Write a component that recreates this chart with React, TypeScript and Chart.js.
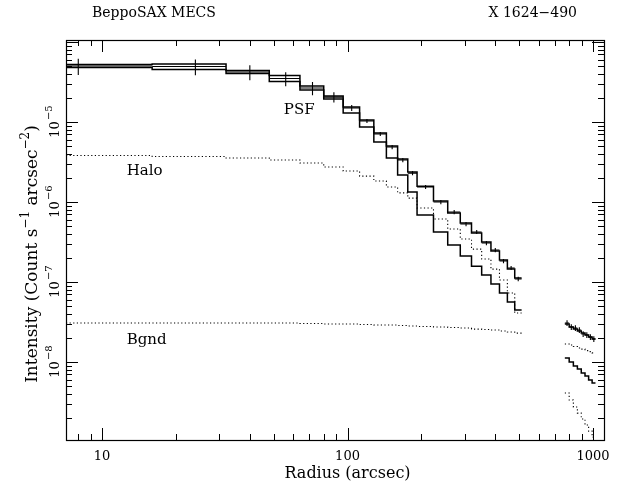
import React, { useEffect, useRef } from 'react';
import { Chart, registerables } from 'chart.js';
Chart.register(...registerables);

// ---- Axis ranges and ticks ----
const X_MIN = 7.13;
const X_MAX = 1109;
const Y_MIN = 1.06e-9;
const Y_MAX = 1.06e-4;
const xMajorTicks = [10, 100, 1000];
const xTickLabels = ['10', '100', '1000'];
const yMajorTicks = [1e-8, 1e-7, 1e-6, 1e-5];
const yTickExponents = ['\u22128', '\u22127', '\u22126', '\u22125'];

// ---- Inner region bins (arcsec) ----
const innerEdges = [0, 16, 32, 48, 64, 80, 96, 112, 128, 144, 160, 176, 192, 224, 256, 288, 320, 352, 384, 416, 448, 480, 512];
const dataInner = [5.01e-5, 4.94e-5, 4.22e-5, 3.5e-5, 2.66e-5, 2.05e-5, 1.5e-5, 1.03e-5, 7.08e-6, 4.87e-6, 3.35e-6, 2.3e-6, 1.54e-6, 1.0e-6, 7.5e-7, 5.31e-7, 4.22e-7, 3.07e-7, 2.51e-7, 1.83e-7, 1.5e-7, 1.09e-7];
const errInner = [1.15e-5, 1.1e-5, 0.9e-5, 0.7e-5, 0.5e-5, 0.3e-5, 0.13e-5, 0.06e-5, 0.4e-6, 0.3e-6, 0.2e-6, 0.14e-6, 0.09e-6, 0.06e-6, 0.45e-7, 0.32e-7, 0.25e-7, 0.18e-7, 0.15e-7, 0.11e-7, 0.09e-7, 0.07e-7];
const totalInner = [5.24e-5, 5.31e-5, 4.4e-5, 3.81e-5, 2.82e-5, 2.11e-5, 1.54e-5, 1.06e-5, 7.29e-6, 5.01e-6, 3.45e-6, 2.37e-6, 1.58e-6, 1.03e-6, 7.29e-7, 5.46e-7, 4.1e-7, 3.16e-7, 2.44e-7, 1.88e-7, 1.45e-7, 1.12e-7];
const psfInner = [4.8e-5, 4.53e-5, 4.04e-5, 3.21e-5, 2.51e-5, 1.94e-5, 1.3e-5, 8.66e-6, 5.62e-6, 3.55e-6, 2.18e-6, 1.33e-6, 6.88e-7, 4.22e-7, 2.9e-7, 2.11e-7, 1.58e-7, 1.22e-7, 9.44e-8, 7.29e-8, 5.62e-8, 4.47e-8];
const haloInner = [3.81e-6, 3.7e-6, 3.55e-6, 3.35e-6, 3.07e-6, 2.74e-6, 2.44e-6, 2.11e-6, 1.83e-6, 1.54e-6, 1.3e-6, 1.12e-6, 8.41e-7, 6.13e-7, 4.6e-7, 3.45e-7, 2.58e-7, 1.94e-7, 1.45e-7, 1.06e-7, 7.29e-8, 4.1e-8];
const bgndInner = [3.07e-8, 3.07e-8, 3.07e-8, 3.07e-8, 3.03e-8, 2.99e-8, 2.99e-8, 2.94e-8, 2.9e-8, 2.9e-8, 2.86e-8, 2.82e-8, 2.78e-8, 2.74e-8, 2.7e-8, 2.66e-8, 2.58e-8, 2.55e-8, 2.51e-8, 2.44e-8, 2.37e-8, 2.3e-8];

// ---- Outer region bins (arcsec) ----
const outerEdges = [768, 800, 832, 864, 896, 928, 960, 992, 1024];
const dataOuter = [3.07e-8, 2.74e-8, 2.66e-8, 2.51e-8, 2.24e-8, 2.18e-8, 2.05e-8, 1.94e-8];
const errOuter = [0.25e-8, 0.23e-8, 0.22e-8, 0.21e-8, 0.19e-8, 0.18e-8, 0.17e-8, 0.16e-8];
const totalOuter = [2.99e-8, 2.74e-8, 2.58e-8, 2.44e-8, 2.3e-8, 2.18e-8, 2.05e-8, 1.94e-8];
const psfOuter = [1.12e-8, 1.0e-8, 8.91e-9, 8.18e-9, 7.29e-9, 6.68e-9, 5.96e-9, 5.46e-9];
const haloOuter = [4.1e-9, 3.35e-9, 2.74e-9, 2.3e-9, 1.94e-9, 1.63e-9, 1.37e-9, 1.15e-9];
const bgndOuter = [1.68e-8, 1.63e-8, 1.56e-8, 1.5e-8, 1.45e-8, 1.39e-8, 1.35e-8, 1.3e-8];

const FONT = '"DejaVu Serif", "Liberation Serif", serif';

function steps(edges: number[], vals: number[]) {
  const pts: { x: number; y: number }[] = [];
  for (let i = 0; i < vals.length; i++) pts.push({ x: Math.max(edges[i], X_MIN), y: vals[i] });
  pts.push({ x: edges[vals.length], y: vals[vals.length - 1] });
  return pts;
}

function lineDs(data: { x: number; y: number }[], dashed: boolean, width: number) {
  return {
    data,
    borderColor: '#000',
    borderWidth: width,
    borderDash: dashed ? [1.2, 2.4] : [],
    pointRadius: 0,
    fill: false,
    stepped: 'before' as const,
    tension: 0,
  };
}

const decorPlugin = {
  id: 'decor',
  afterDatasetsDraw(chart: any) {
    const ctx = chart.ctx as CanvasRenderingContext2D;
    const xs = chart.scales.x;
    const ys = chart.scales.y;
    const a = chart.chartArea;
    ctx.save();
    ctx.strokeStyle = '#000';
    ctx.fillStyle = '#000';

    // error crosses
    const crosses = (edges: number[], vals: number[], errs: number[]) => {
      for (let i = 0; i < vals.length; i++) {
        const lo = Math.max(edges[i], X_MIN);
        const hi = edges[i + 1];
        const c = (edges[i] + edges[i + 1]) / 2;
        const px = xs.getPixelForValue(c);
        ctx.beginPath();
        ctx.moveTo(xs.getPixelForValue(lo), ys.getPixelForValue(vals[i]));
        ctx.lineTo(xs.getPixelForValue(hi), ys.getPixelForValue(vals[i]));
        ctx.moveTo(px, ys.getPixelForValue(vals[i] - errs[i]));
        ctx.lineTo(px, ys.getPixelForValue(vals[i] + errs[i]));
        ctx.stroke();
      }
    };
    ctx.lineWidth = 1.1;
    crosses(innerEdges, dataInner, errInner);
    crosses(outerEdges, dataOuter, errOuter);

    // frame
    ctx.lineWidth = 1.2;
    ctx.strokeRect(Math.round(a.left) + 0.5, Math.round(a.top) + 0.5, Math.round(a.right - a.left), Math.round(a.bottom - a.top));

    // x ticks (log)
    ctx.lineWidth = 1;
    const xDecStart = Math.floor(Math.log10(X_MIN));
    const xDecEnd = Math.ceil(Math.log10(X_MAX));
    ctx.beginPath();
    for (let d = xDecStart; d <= xDecEnd; d++) {
      for (let m = 1; m <= 9; m++) {
        const v = m * Math.pow(10, d);
        if (v < X_MIN || v > X_MAX) continue;
        const px = Math.round(xs.getPixelForValue(v)) + 0.5;
        const len = m === 1 ? 12 : 6;
        ctx.moveTo(px, a.bottom);
        ctx.lineTo(px, a.bottom - len);
        ctx.moveTo(px, a.top);
        ctx.lineTo(px, a.top + len);
      }
    }
    // y ticks (log)
    const yDecStart = Math.floor(Math.log10(Y_MIN));
    const yDecEnd = Math.ceil(Math.log10(Y_MAX));
    for (let d = yDecStart; d <= yDecEnd; d++) {
      for (let m = 1; m <= 9; m++) {
        const v = m * Math.pow(10, d);
        if (v < Y_MIN || v > Y_MAX) continue;
        const py = Math.round(ys.getPixelForValue(v)) + 0.5;
        const len = m === 1 ? 12 : 6;
        ctx.moveTo(a.left, py);
        ctx.lineTo(a.left + len, py);
        ctx.moveTo(a.right, py);
        ctx.lineTo(a.right - len, py);
      }
    }
    ctx.stroke();

    // x tick labels
    ctx.font = `13px ${FONT}`;
    ctx.textAlign = 'center';
    ctx.textBaseline = 'alphabetic';
    xMajorTicks.forEach((v, i) => {
      ctx.fillText(xTickLabels[i], xs.getPixelForValue(v), a.bottom + 20);
    });
    // x title
    ctx.font = `16px ${FONT}`;
    ctx.fillText('Radius (arcsec)', xs.getPixelForValue(100), a.bottom + 38);

    // y tick labels (rotated)
    yMajorTicks.forEach((v, i) => {
      const py = ys.getPixelForValue(v);
      ctx.save();
      ctx.translate(a.left - 7, py);
      ctx.rotate(-Math.PI / 2);
      ctx.textAlign = 'left';
      ctx.font = `13px ${FONT}`;
      const w = ctx.measureText('10').width;
      ctx.font = `10px ${FONT}`;
      const ws = ctx.measureText(yTickExponents[i]).width;
      const start = -(w + ws) / 2;
      ctx.font = `13px ${FONT}`;
      ctx.fillText('10', start, 0);
      ctx.font = `10px ${FONT}`;
      ctx.fillText(yTickExponents[i], start + w + 1, -7);
      ctx.restore();
    });

    // y title (rotated, with superscripts)
    ctx.save();
    ctx.translate(37, 254);
    ctx.rotate(-Math.PI / 2);
    const parts: [string, boolean][] = [
      ['Intensity (Count s', false],
      ['\u22121', true],
      [' arcsec', false],
      ['\u22122', true],
      [')', false],
    ];
    let total = 0;
    parts.forEach(([t, s]) => {
      ctx.font = s ? `12px ${FONT}` : `17px ${FONT}`;
      total += ctx.measureText(t).width;
    });
    let pos = -total / 2;
    ctx.textAlign = 'left';
    parts.forEach(([t, s]) => {
      ctx.font = s ? `12px ${FONT}` : `17px ${FONT}`;
      ctx.fillText(t, pos, s ? -8 : 0);
      pos += ctx.measureText(t).width;
    });
    ctx.restore();

    // annotations
    ctx.font = `15px ${FONT}`;
    ctx.textAlign = 'left';
    ctx.fillText('PSF', xs.getPixelForValue(55), ys.getPixelForValue(1.25e-5));
    ctx.fillText('Halo', xs.getPixelForValue(12.6), ys.getPixelForValue(2.2e-6));
    ctx.fillText('Bgnd', xs.getPixelForValue(12.6), ys.getPixelForValue(1.7e-8));

    // titles
    ctx.font = `14px ${FONT}`;
    ctx.fillText('BeppoSAX MECS', 92, 17);
    ctx.textAlign = 'right';
    ctx.fillText('X 1624\u2212490', 577, 17);
    ctx.restore();
  },
};

export default function App() {
  const ref = useRef<HTMLCanvasElement>(null);
  useEffect(() => {
    const canvas = ref.current!;
    const chart = new Chart(canvas, {
      type: 'line',
      data: {
        datasets: [
          lineDs(steps(innerEdges, totalInner), false, 1.5),
          lineDs(steps(outerEdges, totalOuter), false, 1.5),
          lineDs(steps(innerEdges, psfInner), false, 1.5),
          lineDs(steps(outerEdges, psfOuter), false, 1.5),
          lineDs(steps(innerEdges, haloInner), true, 1.1),
          lineDs(steps(outerEdges, haloOuter), true, 1.1),
          lineDs(steps(innerEdges, bgndInner), true, 1.1),
          lineDs(steps(outerEdges, bgndOuter), true, 1.1),
        ],
      },
      options: {
        responsive: false,
        animation: false,
        devicePixelRatio: 1,
        layout: { padding: { left: 66, right: 24, top: 40, bottom: 47 } },
        plugins: { legend: { display: false }, tooltip: { enabled: false } },
        scales: {
          x: { type: 'logarithmic', min: X_MIN, max: X_MAX, display: false },
          y: { type: 'logarithmic', min: Y_MIN, max: Y_MAX, display: false },
        },
      },
      plugins: [decorPlugin],
    });
    return () => chart.destroy();
  }, []);
  return (
    <div style={{ position: 'fixed', left: 0, top: 0, width: 628, height: 487, background: '#fff' }}>
      <canvas ref={ref} width={628} height={487} style={{ display: 'block' }} />
    </div>
  );
}
